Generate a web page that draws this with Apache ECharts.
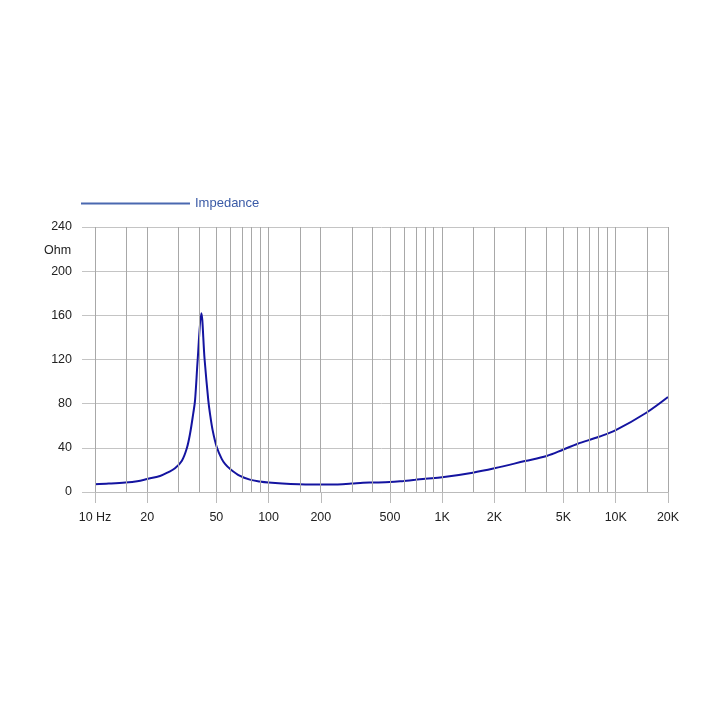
<!DOCTYPE html>
<html>
<head>
<meta charset="utf-8">
<script src="https://cdn.jsdelivr.net/npm/echarts@6/dist/echarts.min.js"></script>
<style>html,body{margin:0;padding:0;background:#fff}#c{width:721px;height:721px}</style>
</head>
<body>
<div id="c"></div>
<script>
// Data
const freqs = [10,12,15,17.5,20,23.7,26.5,28.9,31.6,33.8,35.3,36.8,37.7,39.05,40.96,42.8,44.95,45.96,47.6,50.2,53.7,56.1,59.9,68.5,78,89,100,120,150,200,250,300,350,400,500,600,700,800,1000,1500,2000,3000,4000,5000,6000,8000,10000,15000,20000];
const impedance = [7.0,7.6,8.6,9.8,11.8,14.5,18,21.5,28,39.6,53,71,83,120,162,120,83,71,56,41,30,25.5,21,14.5,11.2,9.5,8.5,7.6,7.0,6.7,6.9,7.6,8.4,8.6,9.0,10.0,11.0,12.0,13.3,17.5,21.5,28,32.6,38.5,43.5,50,56,71.8,86];
const gridFreqs = [10,15,20,30,40,50,60,70,80,90,100,150,200,300,400,500,600,700,800,900,1000,1500,2000,3000,4000,5000,6000,7000,8000,9000,10000,15000,20000];
const labelFreqs = [10,20,50,100,200,500,1000,2000,5000,10000,20000];
const labelTexts = ['10 Hz','20','50','100','200','500','1K','2K','5K','10K','20K'];

const L = v => Math.log10(v);
const labelMap = {};
labelFreqs.forEach((f,i)=>{ labelMap[Math.round(f)] = labelTexts[i]; });
const font = 'Liberation Sans';

const chart = echarts.init(document.getElementById('c'));
chart.setOption({
  animation: false,
  backgroundColor: '#fff',
  grid: {left: 95, right: 53, top: 227, bottom: 229},
  legend: {
    left: 81, top: 197, padding: 0, icon: 'rect', itemWidth: 109, itemHeight: 2,
    data: [{name: 'Impedance', itemStyle: {color: '#4a68b0'}}],
    textStyle: {color: '#3a5aa6', fontSize: 13, fontFamily: font}
  },
  graphic: [{type: 'text', left: 44, top: 244, style: {text: 'Ohm', fontSize: 12.5, fontFamily: font, fill: '#222'}}],
  xAxis: {
    type: 'value', min: L(10), max: L(20000),
    axisLine: {show: true, lineStyle: {color: '#bbb', width: 1}},
    axisTick: {show: true, length: 11, customValues: labelFreqs.map(L), lineStyle: {color: '#bbb'}},
    axisLabel: {
      customValues: labelFreqs.map(L), margin: 19,
      color: '#222', fontSize: 12.5, fontFamily: font,
      formatter: v => labelMap[Math.round(Math.pow(10, v))] || ''
    },
    splitLine: {show: false}
  },
  yAxis: {
    type: 'value', min: 0, max: 240, interval: 40,
    axisLine: {show: false},
    axisTick: {show: true, length: 13, lineStyle: {color: '#c4c4c4'}},
    axisLabel: {margin: 23, color: '#222', fontSize: 12.5, fontFamily: font},
    splitLine: {show: true, lineStyle: {color: '#c4c4c4', width: 1}}
  },
  series: [
    {
      name: 'grid', type: 'line', data: [], z: 1, silent: true,
      markLine: {
        silent: true, symbol: 'none', label: {show: false}, animation: false,
        lineStyle: {color: '#a8a8a8', type: 'solid', width: 1},
        data: gridFreqs.map(f => ({xAxis: L(f)}))
      }
    },
    {
      name: 'Impedance', type: 'line', z: 3, smooth: 0.35, showSymbol: false,
      lineStyle: {color: '#1414a0', width: 2},
      itemStyle: {color: '#1414a0'},
      data: freqs.map((f,i) => [L(f), impedance[i]])
    }
  ]
});
</script>
</body>
</html>
